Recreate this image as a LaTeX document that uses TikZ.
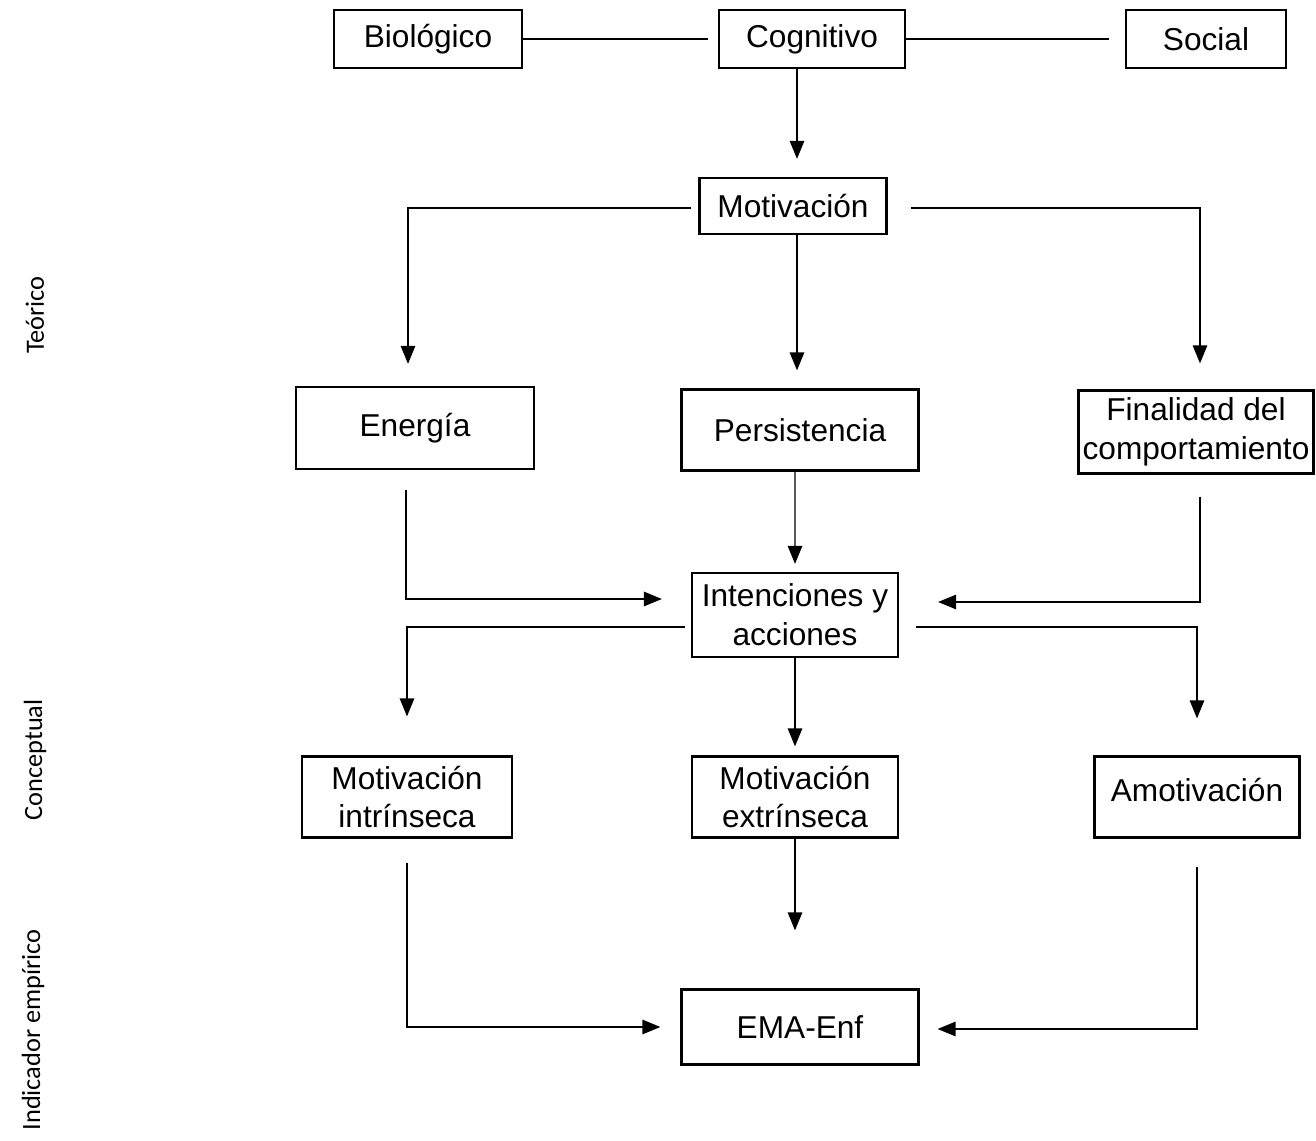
\documentclass[tikz,border=0pt]{standalone}
\usepackage{fontspec}
\setmainfont{Liberation Sans}
\newfontfamily\sidefont{Carlito}
\usetikzlibrary{arrows.meta,positioning}

\begin{document}
\begin{tikzpicture}[x=0.02cm,y=-0.02cm,
    box/.style={rectangle,draw,line width=1.3pt,align=center,inner sep=2pt,font=\fontsize{18}{22}\selectfont},
    side/.style={rotate=90,font=\sidefont\fontsize{15}{18}\selectfont},
    line/.style={line width=0.75pt},
    arrow/.style={line,-{Triangle[length=0.36cm,width=0.29cm]}}]
    \useasboundingbox (0,0) rectangle (1316,1141);
    % niveles
    \node[side] (teo) at (35,315) {Teórico};
    \node[side] (con) at (35,760) {Conceptual};
    \node[side] (ind) at (33,1030) {Indicador empírico};
    % fila superior
    \node[box,minimum width=3.76cm,minimum height=1.16cm] (bio) at (428,39) {Biológico};
    \node[box,minimum width=3.72cm,minimum height=1.16cm] (cog) at (812,39) {Cognitivo};
    \node[box,minimum width=3.2cm,minimum height=1.16cm] (soc) at (1206,39) {Social};
    \node[box,minimum width=3.74cm,minimum height=1.12cm] (mot) at (793,206) {Motivación};
    % dimensiones
    \node[box,minimum width=4.76cm,minimum height=1.64cm] (ene) at (415,428) {Energía};
    \node[box,minimum width=4.74cm,minimum height=1.62cm] (per) at (800,430) {Persistencia};
    \node[box,minimum width=4.7cm,minimum height=1.66cm,inner sep=1pt] (fin) at (1196,432) {Finalidad del\\comportamiento};
    \node[box,minimum width=4.12cm,minimum height=1.68cm] (int) at (795,615) {Intenciones y\\acciones};
    % tipos
    \node[box,minimum width=4.2cm,minimum height=1.62cm] (mint) at (407,797) {Motivación\\intrínseca};
    \node[box,minimum width=4.12cm,minimum height=1.62cm] (mext) at (795,797) {Motivación\\extrínseca};
    \node[box,minimum width=4.1cm,minimum height=1.62cm] (amo) at (1197,797) {Amotivación\\[-0.7cm]\strut};
    \node[box,minimum width=4.74cm,minimum height=1.5cm] (ema) at (800,1027) {EMA-Enf};
    % conectores
    \draw[line] (bio.east) -- ([xshift=-0.2cm]cog.west);
    \draw[line] (cog.east) -- ([xshift=-0.32cm]soc.west);
    \draw[arrow,shorten >=0.36cm] ([xshift=-0.3cm]cog.south) -- ([xshift=-0.3cm]cog.south |- mot.north);
    \draw[arrow,shorten <=0.14cm,shorten >=0.44cm] ([yshift=-0.04cm]mot.west) -| ([xshift=-0.14cm]ene.north);
    \draw[arrow,shorten <=0.46cm,shorten >=0.52cm] ([yshift=-0.04cm]mot.east) -| ([xshift=0.08cm]fin.north);
    \draw[arrow,shorten >=0.36cm] ([xshift=0.08cm]mot.south) -- ([xshift=0.08cm]mot.south |- per.north);
    \draw[arrow,shorten >=0.16cm] ([xshift=-0.1cm]per.south) -- (int.north);
    \draw[arrow,shorten <=0.4cm,shorten >=0.58cm] ([xshift=-0.18cm]ene.south) |- ([yshift=0.32cm]int.west);
    \draw[arrow,shorten <=0.44cm,shorten >=0.78cm] ([xshift=0.08cm]fin.south) |- ([yshift=0.26cm]int.east);
    \draw[arrow,shorten <=0.12cm,shorten >=0.78cm] ([yshift=-0.24cm]int.west) -| (mint.north);
    \draw[arrow,shorten <=0.34cm,shorten >=0.74cm] ([yshift=-0.24cm]int.east) -| (amo.north);
    \draw[arrow,shorten >=0.18cm] (int.south) -- (mext.north);
    \draw[arrow,shorten >=1.16cm] (mext.south) -- (mext.south |- ema.north);
    \draw[arrow,shorten <=0.48cm,shorten >=0.4cm] (mint.south) |- (ema.west);
    \draw[arrow,shorten <=0.56cm,shorten >=0.36cm] (amo.south) |- ([yshift=-0.04cm]ema.east);
\end{tikzpicture}
\end{document}
